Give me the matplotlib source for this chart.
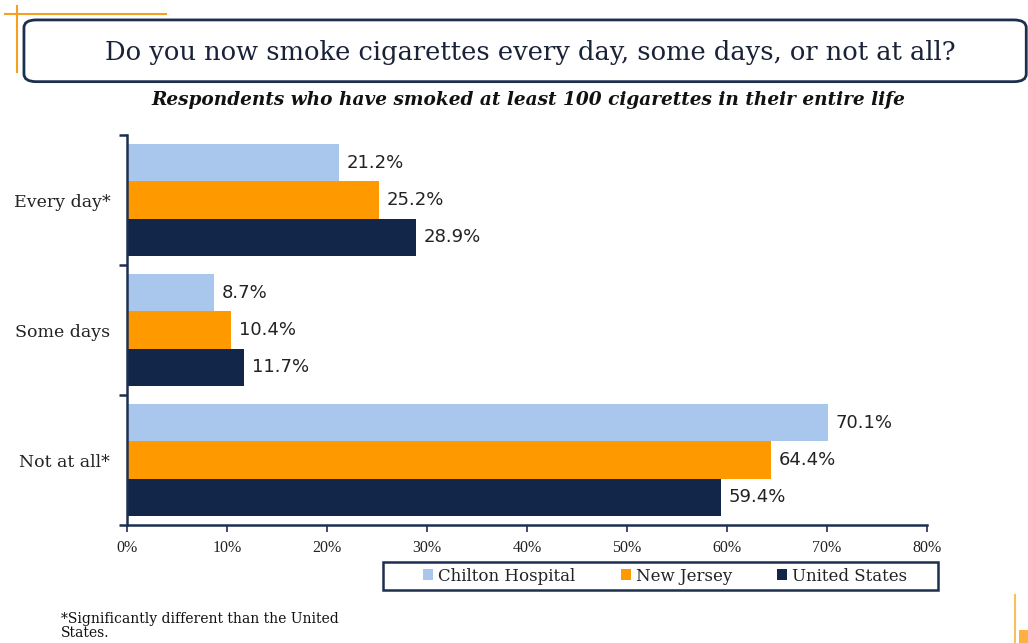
import numpy as np
import matplotlib.pyplot as plt
from matplotlib.patches import FancyBboxPatch, Rectangle
from matplotlib.lines import Line2D

categories = ['Every day*', 'Some days', 'Not at all*']
series_names = ['Chilton Hospital', 'New Jersey', 'United States']
chilton = [21.2, 8.7, 70.1]
new_jersey = [25.2, 10.4, 64.4]
united_states = [28.9, 11.7, 59.4]
x_ticks = [0, 10, 20, 30, 40, 50, 60, 70, 80]

colors = ['#a9c6ec', '#ff9900', '#12264a']
navy = '#1c2f4f'
serif = ['DejaVu Serif']

fig = plt.figure(figsize=(10.28, 6.43), dpi=100)
ax = fig.add_axes([0.1235, 0.1835, 0.7782, 0.6065])

h = 0.288
y = np.arange(len(categories))
for i, (vals, col) in enumerate(zip([chilton, new_jersey, united_states], colors)):
    pos = y + (i - 1) * h
    ax.barh(pos, vals, height=h, color=col, edgecolor='none', label=series_names[i])
    for p, v in zip(pos, vals):
        ax.text(v + 0.8, p, f'{v:.1f}%', va='center', ha='left',
                fontsize=13, family='DejaVu Sans', color='#222222')

ax.set_xlim(0, 80)
ax.set_ylim(2.5, -0.5)
ax.set_xticks(x_ticks)
ax.set_xticklabels([f'{t}%' for t in x_ticks], family=['Liberation Serif'], fontsize=11.5,
                   color='#222222')
ax.set_yticks([-0.5, 0.5, 1.5, 2.5])
ax.set_yticklabels([])
ax.set_yticks(y, minor=True)
ax.set_yticklabels(categories, minor=True, family=serif, fontsize=12.5, color='#222222')
ax.tick_params(axis='y', which='minor', length=0, pad=12)
ax.tick_params(axis='y', which='major', length=6, width=1.8, color=navy)
ax.tick_params(axis='x', length=5, width=1.2, color=navy, pad=6)
for s in ['top', 'right']:
    ax.spines[s].set_visible(False)
for s in ['left', 'bottom']:
    ax.spines[s].set_color(navy)
    ax.spines[s].set_linewidth(1.8)

# title box
fig.patches.append(FancyBboxPatch((0.0233, 0.873), 0.975, 0.096, transform=fig.transFigure,
                                  boxstyle='round,pad=0,rounding_size=0.012',
                                  facecolor='white', edgecolor=navy, linewidth=2))
fig.text(0.516, 0.918, 'Do you now smoke cigarettes every day, some days, or not at all?',
         ha='center', va='center', family=serif, fontsize=18.5, color='#1a2238')
fig.text(0.514, 0.844, 'Respondents who have smoked at least 100 cigarettes in their entire life',
         ha='center', va='center', family=serif, fontsize=13.3, style='italic',
         weight='bold', color='#111111')

# decorative orange lines
orange = '#f5a020'
fig.lines.append(Line2D([0.005, 0.161], [0.978, 0.978], transform=fig.transFigure, color=orange, lw=1.5))
fig.lines.append(Line2D([0.0165, 0.0165], [0.99, 0.888], transform=fig.transFigure, color=orange, lw=1.5))
fig.lines.append(Line2D([0.987, 0.987], [0.075, 0.0], transform=fig.transFigure, color='#fbbf60', lw=1.5))
fig.patches.append(Rectangle((0.991, 0.0), 0.009, 0.02, transform=fig.transFigure,
                             facecolor='#ffb040', edgecolor='none'))

# legend with its own box
fig.patches.append(Rectangle((0.3726, 0.0824), 0.540, 0.0435, transform=fig.transFigure,
                             facecolor='white', edgecolor=navy, linewidth=1.8))
leg = fig.legend(loc='center', bbox_to_anchor=(0.647, 0.104), ncol=3, frameon=False,
                 prop={'family': serif, 'size': 12}, handlelength=0.6, handleheight=0.6,
                 handletextpad=0.3, columnspacing=2.7, borderpad=0, borderaxespad=0)
for t in leg.get_texts():
    t.set_color('#222222')

fig.text(0.059, 0.005, '*Significantly different than the United\nStates.', ha='left', va='bottom',
         family=serif, fontsize=10, color='#111111', linespacing=0.95)

fig.savefig('out.png', dpi=100)
